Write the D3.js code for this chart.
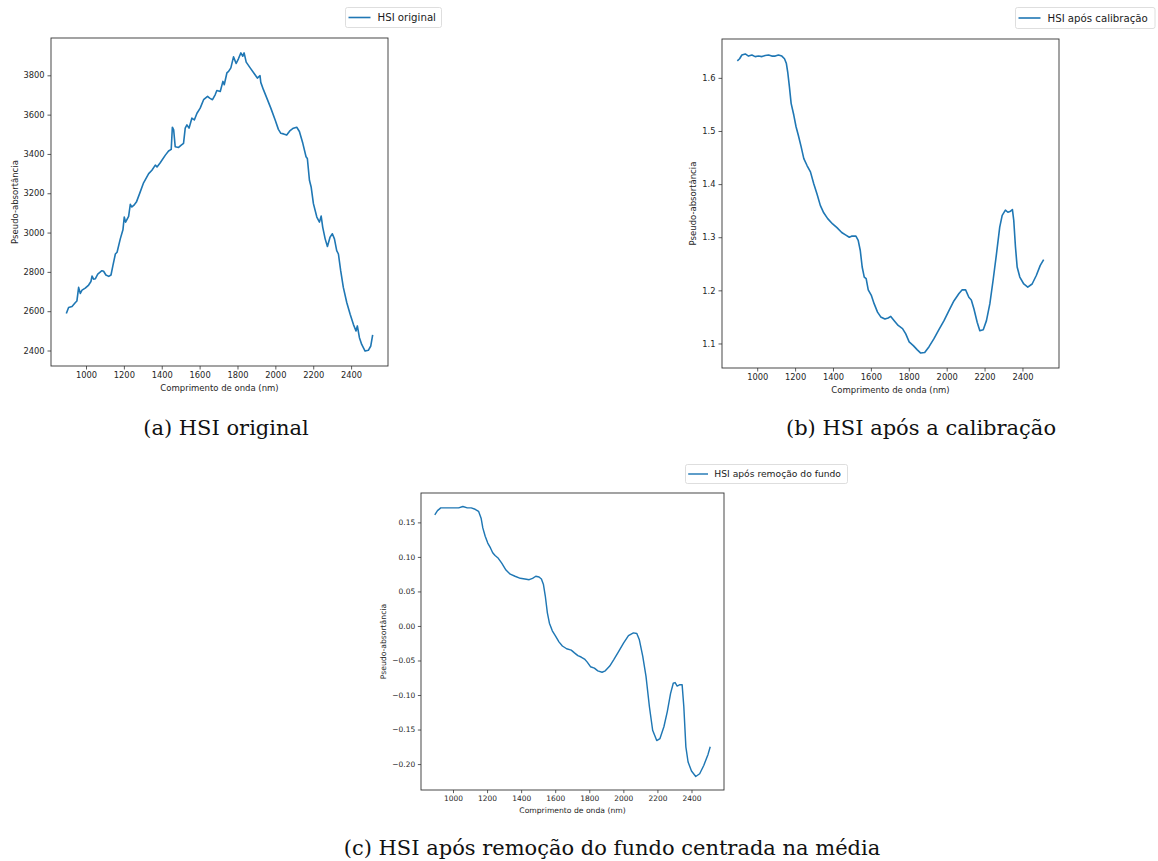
<!DOCTYPE html>
<html>
<head>
<meta charset="utf-8">
<script src="https://cdn.jsdelivr.net/npm/d3@7"></script>
<style>
  body { margin: 0; background: #fff; }
  svg { display: block; }
</style>
</head>
<body>
<div id="chart"></div>
<script>
// Spectra (wavelength in nm)
const waveA = [896, 908, 926, 944, 952, 961, 970, 979, 996, 1014, 1026, 1032, 1040, 1049, 1062, 1084, 1093, 1105, 1120, 1132,
  1142, 1155, 1164, 1181, 1195, 1202, 1209, 1225, 1234, 1241, 1252, 1266, 1283, 1304, 1331, 1348, 1366, 1375, 1392, 1419,
  1436, 1450, 1456, 1463, 1471, 1489, 1503, 1515, 1524, 1533, 1544, 1559, 1572, 1586, 1603, 1621, 1642, 1653, 1668, 1682,
  1691, 1709, 1723, 1730, 1744, 1753, 1765, 1779, 1793, 1805, 1818, 1828, 1835, 1846, 1867, 1888, 1905, 1919, 1923, 1937,
  1955, 1976, 1999, 2016, 2029, 2043, 2060, 2078, 2095, 2113, 2127, 2145, 2162, 2169, 2180, 2189, 2201, 2219, 2233, 2242,
  2250, 2263, 2275, 2289, 2301, 2312, 2324, 2333, 2345, 2359, 2377, 2395, 2412, 2426, 2433, 2444, 2456, 2474, 2491, 2504, 2514];
const valsA = [2588, 2619, 2624, 2644, 2652, 2721, 2690, 2707, 2717, 2733, 2751, 2779, 2763, 2765, 2789, 2806, 2803, 2784, 2777, 2784,
  2832, 2891, 2900, 2968, 3014, 3079, 3053, 3082, 3144, 3130, 3138, 3155, 3198, 3253, 3300, 3317, 3343, 3334, 3355, 3394,
  3415, 3423, 3536, 3522, 3437, 3433, 3445, 3454, 3531, 3548, 3531, 3582, 3573, 3607, 3633, 3676, 3693, 3684, 3676, 3701,
  3723, 3718, 3769, 3752, 3812, 3820, 3838, 3894, 3860, 3884, 3914, 3897, 3914, 3867, 3838, 3809, 3786, 3798, 3764, 3727,
  3684, 3633, 3573, 3525, 3505, 3502, 3496, 3519, 3531, 3536, 3514, 3454, 3386, 3377, 3266, 3232, 3147, 3079, 3053, 3084,
  3028, 2968, 2929, 2977, 2994, 2968, 2908, 2891, 2806, 2721, 2644, 2584, 2533, 2499, 2525, 2465, 2431, 2397, 2401, 2423, 2479];

const waveB = [895, 907, 919, 937, 954, 972, 989, 1007, 1025, 1042, 1060, 1077, 1095, 1112, 1130, 1144, 1154, 1161, 1170, 1179,
  1193, 1205, 1217, 1232, 1246, 1263, 1281, 1298, 1316, 1333, 1351, 1372, 1398, 1421, 1446, 1468, 1486, 1498, 1521, 1533,
  1544, 1554, 1565, 1575, 1586, 1603, 1617, 1635, 1652, 1674, 1691, 1705, 1723, 1744, 1767, 1784, 1802, 1824, 1845, 1863,
  1884, 1907, 1933, 1959, 1986, 2012, 2038, 2065, 2082, 2100, 2117, 2130, 2144, 2161, 2175, 2193, 2210, 2228, 2245, 2263,
  2280, 2293, 2310, 2323, 2337, 2347, 2354, 2363, 2372, 2386, 2407, 2428, 2451, 2473, 2494, 2512];
const valsB = [1.632, 1.636, 1.643, 1.645, 1.641, 1.643, 1.640, 1.641, 1.640, 1.642, 1.643, 1.641, 1.641, 1.643, 1.641, 1.636, 1.627, 1.611, 1.583, 1.552,
  1.530, 1.508, 1.492, 1.470, 1.448, 1.435, 1.423, 1.401, 1.381, 1.360, 1.346, 1.335, 1.325, 1.318, 1.309, 1.304, 1.300, 1.302, 1.302, 1.294,
  1.275, 1.244, 1.225, 1.222, 1.201, 1.190, 1.175, 1.159, 1.150, 1.146, 1.148, 1.151, 1.143, 1.134, 1.128, 1.118, 1.103, 1.096, 1.088, 1.082,
  1.083, 1.094, 1.109, 1.126, 1.143, 1.162, 1.180, 1.194, 1.201, 1.201, 1.187, 1.182, 1.165, 1.140, 1.124, 1.126, 1.143, 1.175, 1.219, 1.269,
  1.319, 1.341, 1.351, 1.347, 1.349, 1.352, 1.332, 1.282, 1.244, 1.225, 1.212, 1.206, 1.212, 1.228, 1.247, 1.258];

const waveC = [893, 909, 928, 951, 981, 1010, 1033, 1058, 1084, 1107, 1130, 1150, 1165, 1175, 1189, 1204, 1220, 1233, 1247, 1266,
  1286, 1311, 1336, 1364, 1395, 1422, 1447, 1467, 1486, 1505, 1519, 1531, 1542, 1554, 1566, 1583, 1603, 1622, 1642, 1667,
  1694, 1713, 1733, 1752, 1772, 1787, 1807, 1830, 1850, 1875, 1894, 1920, 1943, 1972, 2001, 2030, 2059, 2079, 2094, 2114,
  2133, 2153, 2172, 2196, 2215, 2238, 2258, 2277, 2293, 2304, 2316, 2332, 2345, 2355, 2367, 2380, 2400, 2425, 2448, 2472, 2497, 2510];
const valsC = [0.161, 0.167, 0.171, 0.171, 0.171, 0.171, 0.171, 0.173, 0.171, 0.171, 0.169, 0.166, 0.156, 0.142, 0.130, 0.120, 0.113, 0.106, 0.102, 0.098,
  0.091, 0.081, 0.075, 0.072, 0.069, 0.068, 0.067, 0.069, 0.072, 0.071, 0.068, 0.060, 0.043, 0.019, 0.004, -0.007, -0.015, -0.023, -0.029, -0.033,
  -0.035, -0.039, -0.043, -0.045, -0.048, -0.052, -0.059, -0.061, -0.065, -0.067, -0.065, -0.058, -0.049, -0.037, -0.025, -0.014, -0.010, -0.011, -0.020, -0.044,
  -0.073, -0.117, -0.151, -0.166, -0.163, -0.146, -0.124, -0.098, -0.083, -0.082, -0.087, -0.085, -0.085, -0.117, -0.175, -0.197, -0.210, -0.218, -0.214, -0.202, -0.186, -0.175];

// Tick values
const xTicks = [1000, 1200, 1400, 1600, 1800, 2000, 2200, 2400];
const yTicksA = [2400, 2600, 2800, 3000, 3200, 3400, 3600, 3800];
const yTicksB = [1.1, 1.2, 1.3, 1.4, 1.5, 1.6];
const yTicksC = [-0.20, -0.15, -0.10, -0.05, 0.00, 0.05, 0.10, 0.15];

const legendLabels = ["HSI original", "HSI após calibração", "HSI após remoção do fundo"];
const captions = ["(a) HSI original", "(b) HSI após a calibração", "(c) HSI após remoção do fundo centrada na média"];

const blue = "#1f77b4";
const sans = "DejaVu Sans, sans-serif";

const svg = d3.select("#chart")
    .append("svg")
    .attr("width", 1158)
    .attr("height", 861);

// matplotlib-like 5% margins around the data extent
function padded(vals) {
  const [lo, hi] = d3.extent(vals);
  const p = (hi - lo) * 0.05;
  return [lo - p, hi + p];
}

function drawPanel(cfg) {
  const k = cfg.k; // the third figure is printed a bit smaller
  const x = d3.scaleLinear().domain(padded(cfg.wave)).range([cfg.left, cfg.right]);
  const y = d3.scaleLinear().domain(padded(cfg.vals)).range([cfg.bottom, cfg.top]);
  const g = svg.append("g");

  // line
  const line = d3.line().x((d, i) => x(cfg.wave[i])).y(d => y(d));
  g.append("path")
    .datum(cfg.vals)
    .attr("d", line)
    .attr("fill", "none")
    .attr("stroke", blue)
    .attr("stroke-width", 1.6 * k)
    .attr("stroke-linejoin", "round");

  // axes
  const xAxis = g.append("g")
    .attr("transform", `translate(0,${cfg.bottom})`)
    .call(d3.axisBottom(x).tickValues(xTicks).tickSize(3.5 * k).tickPadding(2.5 * k).tickFormat(d3.format("d")));
  const yAxis = g.append("g")
    .attr("transform", `translate(${cfg.left},0)`)
    .call(d3.axisLeft(y).tickValues(cfg.yTicks).tickSize(3.5 * k).tickPadding(3 * k).tickFormat(cfg.fmt));
  [xAxis, yAxis].forEach(a => {
    a.select(".domain").remove();
    a.selectAll("line").attr("stroke", "#333").attr("stroke-width", 0.8);
    a.selectAll("text").attr("fill", "#262626").style("font-family", sans).style("font-size", (8.3 * k) + "px");
  });

  // frame
  g.append("rect")
    .attr("x", cfg.left).attr("y", cfg.top)
    .attr("width", cfg.right - cfg.left).attr("height", cfg.bottom - cfg.top)
    .attr("fill", "none").attr("stroke", "#333").attr("stroke-width", 0.9);

  // axis labels
  g.append("text")
    .attr("x", (cfg.left + cfg.right) / 2)
    .attr("y", cfg.bottom + 25 * k)
    .attr("text-anchor", "middle")
    .attr("fill", "#262626")
    .style("font-family", sans).style("font-size", (8.5 * k) + "px")
    .text("Comprimento de onda (nm)");
  g.append("text")
    .attr("transform", `translate(${cfg.ylabX},${(cfg.top + cfg.bottom) / 2}) rotate(-90)`)
    .attr("text-anchor", "middle")
    .attr("dy", "0.35em")
    .attr("fill", "#262626")
    .style("font-family", sans).style("font-size", (8.5 * k) + "px")
    .text("Pseudo-absortância");

  // legend
  const lg = g.append("g");
  lg.append("rect")
    .attr("x", cfg.leg[0]).attr("y", cfg.leg[1])
    .attr("width", cfg.leg[2]).attr("height", cfg.leg[3])
    .attr("rx", 2)
    .attr("fill", "#fff").attr("stroke", "#d6d6d6").attr("stroke-width", 0.8);
  const ly = cfg.leg[1] + cfg.leg[3] / 2;
  lg.append("line")
    .attr("x1", cfg.leg[0] + 3 * k).attr("x2", cfg.leg[0] + 25 * k)
    .attr("y1", ly).attr("y2", ly)
    .attr("stroke", blue).attr("stroke-width", 1.6 * k);
  lg.append("text")
    .attr("x", cfg.leg[0] + 32 * k).attr("y", ly)
    .attr("dy", "0.35em")
    .attr("fill", "#1a1a1a")
    .style("font-family", sans).style("font-size", (10.2 * k) + "px")
    .text(cfg.legend);

  // caption
  svg.append("text")
    .attr("x", cfg.capX).attr("y", cfg.capY)
    .attr("text-anchor", "middle")
    .attr("fill", "#111")
    .style("font-family", "DejaVu Serif, serif")
    .style("font-size", "21px")
    .text(cfg.caption);
}

const fmt1 = d => d.toFixed(1);
const fmt2 = d => d3.format(".2f")(d).replace("-", "\u2212");

drawPanel({ wave: waveA, vals: valsA, k: 1, left: 51, right: 388, top: 38, bottom: 366, yTicks: yTicksA, fmt: d3.format("d"),
  ylabX: 15.5, leg: [345.5, 7.5, 96, 20], legend: legendLabels[0], caption: captions[0], capX: 226, capY: 435 });
drawPanel({ wave: waveB, vals: valsB, k: 1, left: 722, right: 1059, top: 39, bottom: 368, yTicks: yTicksB, fmt: fmt1,
  ylabX: 693, leg: [1015.5, 7.5, 139.5, 21], legend: legendLabels[1], caption: captions[1], capX: 921, capY: 435 });
drawPanel({ wave: waveC, vals: valsC, k: 0.9, left: 421, right: 724, top: 493, bottom: 790, yTicks: yTicksC, fmt: fmt2,
  ylabX: 383.5, leg: [685.5, 464.5, 162, 19], legend: legendLabels[2], caption: captions[2], capX: 612, capY: 855 });
</script>
</body>
</html>
